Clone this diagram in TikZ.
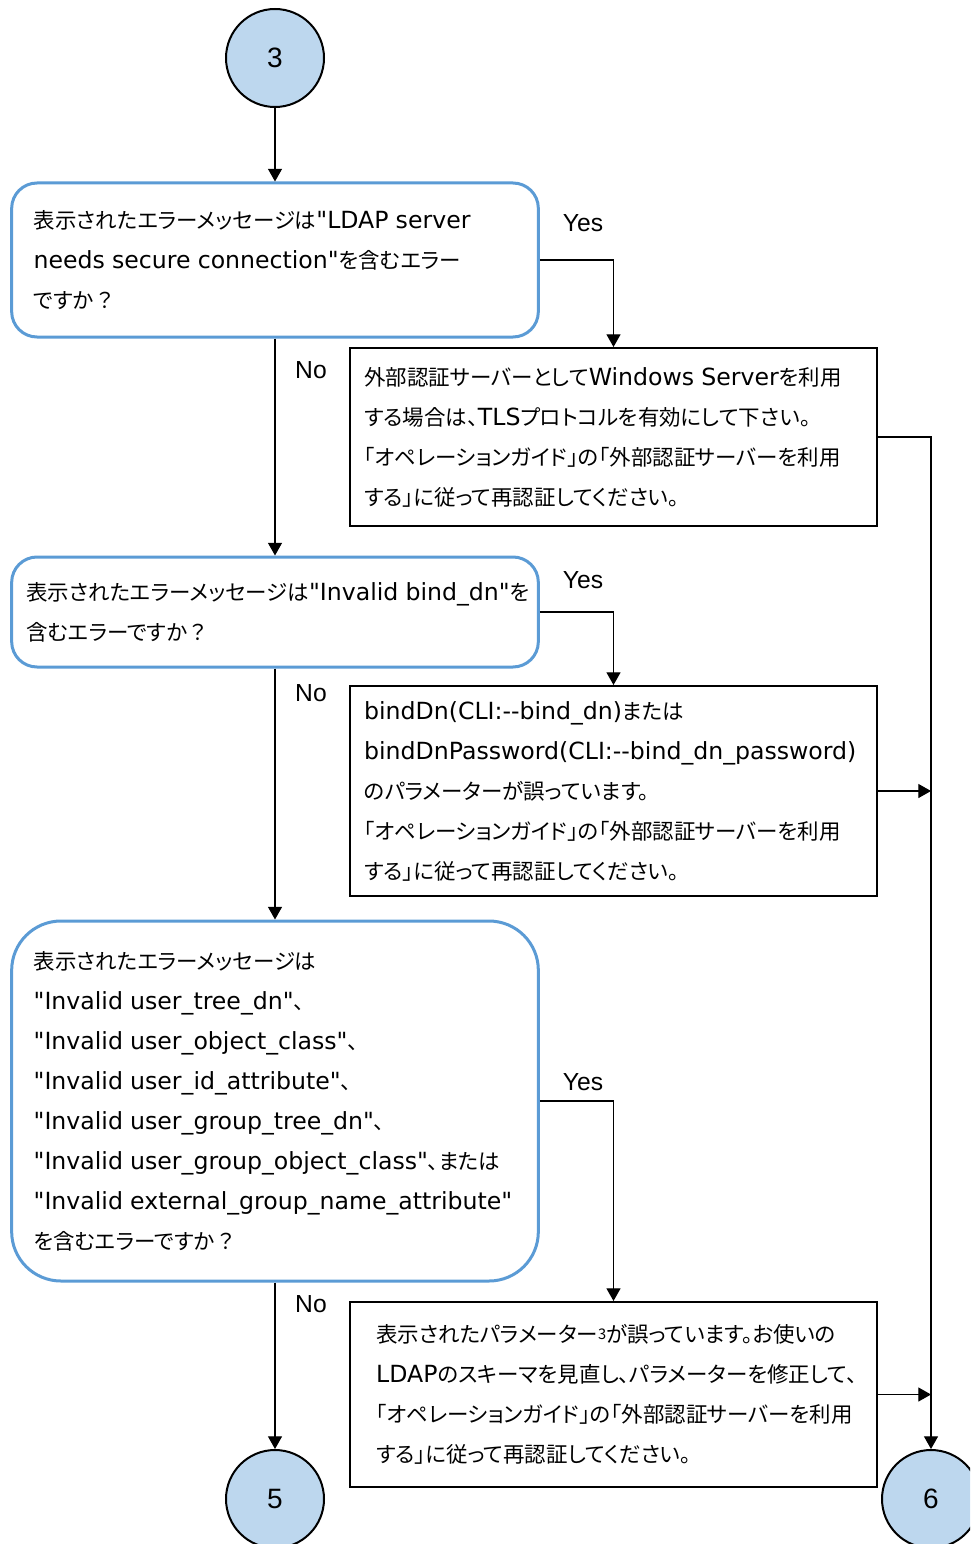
\documentclass[tikz,border=0pt]{standalone}
\usepackage{fontspec}
\setmainfont{Noto Sans CJK JP}[RawFeature=+palt]
\newfontfamily\latn{DejaVu Sans}[Scale=1.1]
\newfontfamily\arialf{Liberation Sans}
\usepackage{tikz}
\usetikzlibrary{arrows.meta,positioning}
\definecolor{decblue}{HTML}{5B9BD5}
\definecolor{circblue}{HTML}{BDD7EE}
\tikzset{
  ar/.style={-{Triangle[length=9.5pt,width=10.5pt]},line width=0.9pt},
  dec/.style={draw=decblue,line width=2.25pt,rounded corners=19pt,align=left,text width=362pt,inner xsep=16.5pt,font=\fontsize{16.1}{30}\selectfont},
  box/.style={draw=black,line width=1.5pt,align=left,text width=374pt,inner xsep=10.5pt,font=\fontsize{16.1}{30}\selectfont},
  conn/.style={circle,draw,line width=1.5pt,fill=circblue,minimum size=73.5pt,inner sep=0pt,font=\arialf\fontsize{21}{24}\selectfont},
  lbl/.style={font=\arialf\fontsize{18.5}{20}\selectfont}
}
\newcommand{\lat}[1]{{\latn #1}}
\begin{document}
\begin{tikzpicture}[x=0.75pt,y=-0.75pt]
\clip (0,0) rectangle (970,1544);
% connectors (circles)
\node[conn] (c3) at (275,58) {3};
\node[conn] (c5) at (275,1499) {5};
\node[conn] (c6) at (931,1499) {6};
% questions
\node[dec,minimum height=115.5pt] (d1) at (275,260) {表示されたエラーメッセージは\lat{"LDAP server}\\\lat{needs secure connection"}を含むエラー\\ですか\,？};
\node[dec,text width=373pt,inner xsep=11pt,minimum height=82.5pt] (d2) at (275,612) {表示されたエラーメッセージは\lat{"Invalid~bind\_dn"}を\\含むエラーですか\,？};
\node[dec,rounded corners=37pt,minimum height=270pt] (d3) at (275,1101) {表示されたエラーメッセージは\\\lat{"Invalid user\_tree\_dn"}、\\\lat{"Invalid user\_object\_class"}、\\\lat{"Invalid user\_id\_attribute"}、\\\lat{"Invalid user\_group\_tree\_dn"}、\\\lat{"Invalid user\_group\_object\_class"}、または\\\lat{"Invalid external\_group\_name\_attribute"}\\を含むエラーですか\,？};
% answers
\node[box,minimum height=133.5pt] (b1) at (613.5,437) {外部認証サーバーとして\lat{Windows Server}を利用\\する場合は、\lat{TLS}プロトコルを有効にして下さい。\\「オペレーションガイド」の「外部認証サーバーを利用\\する」に従って再認証してください。};
\node[box,minimum height=157.5pt] (b2) at (613.5,791) {\lat{bindDn(CLI:-{}-bind\_dn)}または\\\lat{bindDnPassword(CLI:-{}-bind\_dn\_password)}\\のパラメーターが誤っています。\\「オペレーションガイド」の「外部認証サーバーを利用\\する」に従って再認証してください。};
\node[box,text width=356pt,inner xsep=19.5pt,minimum height=138.75pt] (b3) at (613.5,1394.5) {表示されたパラメーター{\fontsize{11}{11}\selectfont\raisebox{0.35ex}{3}}が誤っています。お使いの\\\lat{LDAP}のスキーマを見直し、パラメーターを修正して、\\「オペレーションガイド」の「外部認証サーバーを利用\\する」に従って再認証してください。};
% labels
\node[lbl] (y1) at (583,223) {Yes};
\node[lbl] (y2) at (583,580) {Yes};
\node[lbl] (y3) at (583,1082) {Yes};
\node[lbl] (n1) at (311,370) {No};
\node[lbl] (n2) at (311,693) {No};
\node[lbl] (n3) at (311,1304) {No};
% arrows
\draw[ar] (c3) -- (d1);
\draw[ar] (d1) -- (d2);
\draw[ar] (d2) -- (d3);
\draw[ar] (d3) -- (c5);
\draw[ar] (d1.east) -| (b1.north);
\draw[ar] (d2.east) -| (b2.north);
\draw[ar] (d3.east) -| (b3.north);
\draw[ar] (b1.east) -| (c6);
\draw[ar] (b2.east) -- (b2.east -| c6);
\draw[ar] (b3.east) -- (b3.east -| c6);
\end{tikzpicture}
\end{document}
